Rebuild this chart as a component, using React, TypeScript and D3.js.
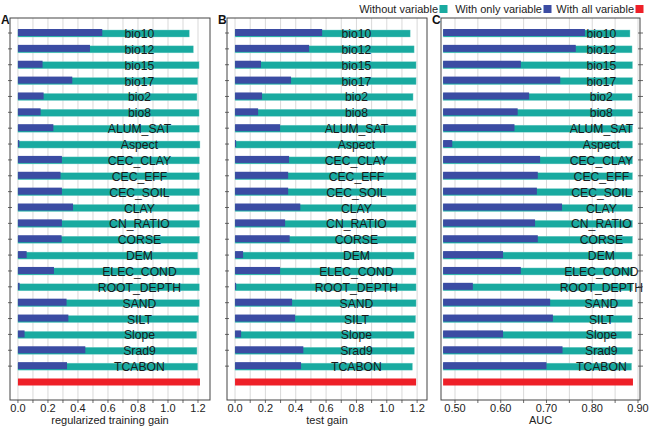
import React from "react";
import * as d3 from "d3";

const variables = ["bio10","bio12","bio15","bio17","bio2","bio8","ALUM_SAT","Aspect","CEC_CLAY","CEC_EFF","CEC_SOIL","CLAY","CN_RATIO","CORSE","DEM","ELEC_COND","ROOT_DEPTH","SAND","SILT","Slope","Srad9","TCABON"];

// Panel A: regularized training gain
const trainWithout = [1.142,1.169,1.207,1.198,1.193,1.207,1.209,1.213,1.209,1.209,1.21,1.209,1.21,1.21,1.198,1.21,1.209,1.209,1.204,1.191,1.193,1.198];
const trainOnly = [0.562,0.48,0.164,0.362,0.171,0.151,0.236,0.009,0.293,0.284,0.293,0.367,0.293,0.291,0.058,0.24,0.011,0.324,0.336,0.044,0.449,0.327];
const trainAll = 1.213;

// Panel B: test gain
const testWithout = [1.154,1.18,1.193,1.193,1.173,1.193,1.193,1.193,1.193,1.193,1.193,1.193,1.193,1.193,1.18,1.193,1.193,1.193,1.19,1.18,1.182,1.169];
const testOnly = [0.574,0.488,0.171,0.369,0.178,0.152,0.297,0.007,0.356,0.35,0.35,0.43,0.33,0.36,0.053,0.297,0.007,0.376,0.396,0.04,0.45,0.435];
const testAll = 1.193;

// Panel C: AUC
const aucWithout = [0.8825,0.887,0.888,0.888,0.887,0.888,0.888,0.888,0.888,0.888,0.888,0.888,0.888,0.888,0.887,0.888,0.888,0.888,0.887,0.886,0.888,0.886];
const aucOnly = [0.784,0.764,0.644,0.73,0.662,0.637,0.63,0.494,0.686,0.681,0.679,0.734,0.675,0.681,0.605,0.644,0.539,0.708,0.714,0.605,0.735,0.70];
const aucAll = 0.889;

const gainTicks = [0, 0.2, 0.4, 0.6, 0.8, 1.0, 1.2];
const aucTicks = [0.5, 0.6, 0.7, 0.8, 0.9];

const legendItems = ["Without variable", "With only variable", "With all variable"];

const C_WITHOUT = "#19aaa0";
const C_ONLY = "#3b4ca3";
const C_ALL = "#ee2028";
const FONT = "'Liberation Sans', Arial, Helvetica, sans-serif";

const TOP = 18;
const BOTTOM = 400;

const rows = [...variables, "__all__"];
const y = d3.scalePoint<string>().domain(rows).range([33, 382]);

type PanelProps = {
  letter: string;
  x0: number;
  x1: number;
  domain: [number, number];
  anchor: number;
  gridStep: number;
  ticks: number[];
  fmt: (v: number) => string;
  without: number[];
  only: number[];
  all: number;
  labelAt: number;
  title: string;
  tickSide: "left" | "right";
};

function Panel(p: PanelProps) {
  const x = d3.scaleLinear().domain(p.domain).range([p.x0, p.x1]);
  const gridVals = d3.range(Math.ceil(p.domain[0] / p.gridStep), Math.floor(p.domain[1] / p.gridStep) + 1).map((k) => k * p.gridStep);
  const base = Math.max(p.anchor, p.domain[0]);
  const tx = p.tickSide === "left" ? p.x0 : p.x1;
  return (
    <g>
      {gridVals.map((g, i) => (
        <line key={"g" + i} x1={x(g)} x2={x(g)} y1={TOP} y2={BOTTOM} stroke="#cfcfcf" strokeWidth={0.8} />
      ))}
      {variables.map((v, i) => {
        const c = y(v)!;
        return (
          <g key={v}>
            <rect x={x(base)} y={c - 3} width={x(p.without[i]) - x(base)} height={7} fill={C_WITHOUT} stroke="#7fd3cc" strokeWidth={0.4} />
            <rect x={x(base)} y={c - 4} width={Math.max(0.8, x(p.only[i]) - x(base))} height={7} fill={C_ONLY} />
            <text x={x(p.labelAt)} y={c + 1} textAnchor="middle" dominantBaseline="central" fontFamily={FONT} fontSize={12.2} fill="#1a1a1a">{v}</text>
            <line x1={tx - 2} x2={tx + 3 * (p.tickSide === "right" ? 1 : 0) + (p.tickSide === "left" ? 2 : 0)} y1={c} y2={c} stroke="#444" strokeWidth={0.8} />
          </g>
        );
      })}
      <rect x={x(base)} y={y("__all__")! - 3.5} width={x(p.all) - x(base)} height={7} fill={C_ALL} />
      <rect x={p.x0} y={TOP} width={p.x1 - p.x0} height={BOTTOM - TOP} fill="none" stroke="#444" strokeWidth={1} />
      {gridVals.map((g, i) => (
        <line key={"t" + i} x1={x(g)} x2={x(g)} y1={BOTTOM} y2={BOTTOM + 3} stroke="#444" strokeWidth={0.8} />
      ))}
      {p.ticks.map((t, i) => (
        <text key={"l" + i} x={x(t)} y={BOTTOM + 12} textAnchor="middle" fontFamily={FONT} fontSize={11} fill="#222">{p.fmt(t)}</text>
      ))}
      <text x={(p.x0 + p.x1) / 2} y={BOTTOM + 24} textAnchor="middle" fontFamily={FONT} fontSize={11} fill="#222">{p.title}</text>
      <text x={p.x0 - 9} y={TOP + 6} textAnchor="start" fontFamily={FONT} fontSize={12} fontWeight="bold" fill="#111">{p.letter}</text>
    </g>
  );
}

export default function App() {
  const legendColors = [C_WITHOUT, C_ONLY, C_ALL];
  const legendRight = [438, 542, 634];
  return (
    <svg width={653} height={427} style={{ position: "absolute", left: 0, top: 0, background: "#fff" }}>
      <rect width={653} height={427} fill="#fff" />
      {legendItems.map((t, i) => (
        <g key={t}>
          <text x={legendRight[i]} y={13} textAnchor="end" fontFamily={FONT} fontSize={11} fill="#222">{t}</text>
          <rect x={legendRight[i] + 1.5} y={5} width={8} height={8} fill={legendColors[i]} />
        </g>
      ))}
      <Panel letter="A" x0={10} x1={210} domain={[-0.053, 1.28]} anchor={0} gridStep={0.1} ticks={gainTicks}
        fmt={(v) => v.toFixed(1)} without={trainWithout} only={trainOnly} all={trainAll} labelAt={0.81}
        title="regularized training gain" tickSide="left" />
      <Panel letter="B" x0={227} x1={427} domain={[-0.053, 1.265]} anchor={0} gridStep={0.1} ticks={gainTicks}
        fmt={(v) => v.toFixed(1)} without={testWithout} only={testOnly} all={testAll} labelAt={0.80}
        title="test gain" tickSide="left" />
      <Panel letter="C" x0={441} x1={640} domain={[0.4694, 0.9044]} anchor={0.474} gridStep={0.05} ticks={aucTicks}
        fmt={(v) => v.toFixed(2)} without={aucWithout} only={aucOnly} all={aucAll} labelAt={0.82}
        title="AUC" tickSide="right" />
    </svg>
  );
}
